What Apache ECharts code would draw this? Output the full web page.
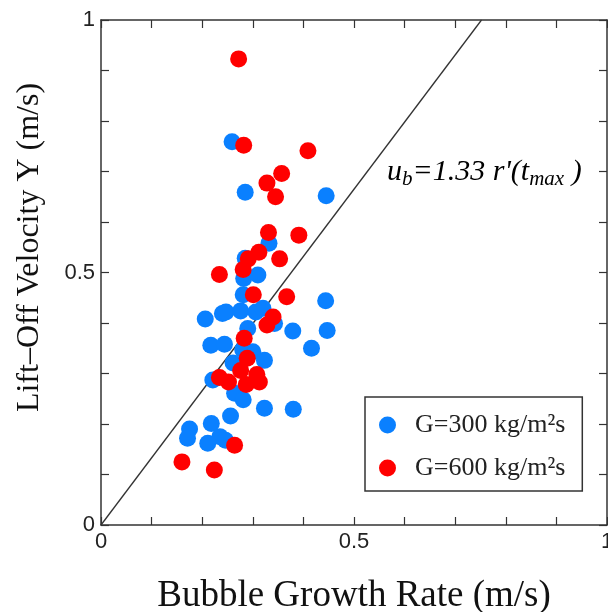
<!DOCTYPE html>
<html>
<head>
<meta charset="utf-8">
<script src="https://cdn.jsdelivr.net/npm/echarts@6/dist/echarts.min.js"></script>
<style>
  html, body { margin: 0; padding: 0; background: #fff; }
  #chart { width: 608px; height: 612px; }
</style>
</head>
<body>
<div id="chart"></div>
<script>
// G=300 kg/m2s  [growth rate, lift-off velocity]
const blue300 = [
  [0.259, 0.759], [0.285, 0.659], [0.445, 0.652], [0.332, 0.558], [0.285, 0.528],
  [0.282, 0.488], [0.310, 0.495], [0.281, 0.456], [0.444, 0.444], [0.206, 0.408],
  [0.240, 0.419], [0.247, 0.422], [0.276, 0.424], [0.306, 0.422], [0.320, 0.429],
  [0.343, 0.399], [0.290, 0.389], [0.379, 0.384], [0.447, 0.385], [0.416, 0.350],
  [0.217, 0.356], [0.244, 0.358], [0.280, 0.347], [0.300, 0.343], [0.261, 0.321],
  [0.323, 0.326], [0.221, 0.287], [0.264, 0.261], [0.281, 0.248], [0.323, 0.231],
  [0.380, 0.229], [0.256, 0.216], [0.218, 0.201], [0.175, 0.190], [0.171, 0.172],
  [0.235, 0.175], [0.246, 0.168], [0.211, 0.162]
];
// G=600 kg/m2s
const red600 = [
  [0.272, 0.923], [0.282, 0.752], [0.409, 0.741], [0.357, 0.696], [0.328, 0.677],
  [0.345, 0.650], [0.331, 0.579], [0.391, 0.574], [0.312, 0.540], [0.353, 0.527],
  [0.291, 0.527], [0.281, 0.506], [0.234, 0.496], [0.301, 0.456], [0.367, 0.452],
  [0.340, 0.412], [0.328, 0.396], [0.283, 0.370], [0.289, 0.330], [0.276, 0.306],
  [0.308, 0.298], [0.234, 0.292], [0.252, 0.283], [0.287, 0.278], [0.313, 0.283],
  [0.264, 0.158], [0.160, 0.125], [0.224, 0.109]
];
// u_b = 1.33 r'(t_max)
const fitX = [0, 0.752];
const fitY = [0, 1];
const tickLabels = ['0', '0.5', '1'];

const serif = '"Liberation Serif", "Times New Roman", serif';
const sans = '"Liberation Sans", Arial, sans-serif';
const axisColor = '#333';

function tickFmt(v) {
  const s = String(Math.round(v * 10) / 10);
  return tickLabels.indexOf(s) >= 0 ? s : '';
}

const chart = echarts.init(document.getElementById('chart'), null, { renderer: 'canvas' });

const baseAxis = {
  min: 0, max: 1, interval: 0.1,
  splitLine: { show: false },
  axisLine: { show: true, onZero: false, lineStyle: { color: axisColor, width: 1.5 } },
  axisTick: { show: true, inside: true, length: 8, lineStyle: { color: axisColor, width: 1.2 } }
};

const option = {
  backgroundColor: '#ffffff',
  animation: false,
  grid: { left: 101, right: 1, top: 20, bottom: 87, outerBoundsMode: 'none', containLabel: false },
  xAxis: [
    Object.assign({}, baseAxis, {
      type: 'value', position: 'bottom',
      name: 'Bubble Growth Rate (m/s)', nameLocation: 'middle', nameGap: 53,
      nameTextStyle: { fontFamily: serif, fontSize: 37, color: '#111' },
      axisLabel: { formatter: tickFmt, fontFamily: sans, fontSize: 22, color: '#222', margin: 6, showMaxLabel: true }
    }),
    Object.assign({}, baseAxis, { type: 'value', position: 'top', axisLabel: { show: false } })
  ],
  yAxis: [
    Object.assign({}, baseAxis, {
      type: 'value', position: 'left',
      name: 'Lift\u2013Off Velocity Y (m/s)', nameLocation: 'middle', nameGap: 55,
      nameTextStyle: { fontFamily: serif, fontSize: 32, color: '#111', padding: [0, 0, 0, 50] },
      axisLabel: { formatter: tickFmt, fontFamily: sans, fontSize: 22, color: '#222', margin: 6 }
    }),
    Object.assign({}, baseAxis, { type: 'value', position: 'right', axisLabel: { show: false } })
  ],
  legend: {
    orient: 'vertical', left: 365, top: 397,
    data: ['G=300 kg/m\u00b2s', 'G=600 kg/m\u00b2s'],
    icon: 'circle', itemWidth: 17, itemHeight: 17, itemGap: 17,
    padding: [15, 17, 10, 14],
    borderColor: '#333', borderWidth: 1.5,
    textStyle: { fontFamily: serif, fontSize: 26, color: '#222', lineHeight: 26, padding: [0, 0, 0, 14] }
  },
  graphic: [{
    type: 'text', left: 387, top: 157,
    style: {
      rich: {
        a: { fontFamily: serif, fontStyle: 'italic', fontSize: 30, color: '#2b2b38' },
        s: { fontFamily: serif, fontStyle: 'italic', fontSize: 21, color: '#2b2b38', padding: [15, 0, 0, 0] }
      },
      text: '{a|u}{s|b}{a|=1.33 r\'(t}{s|max}{a| )}'
    }
  }],
  series: [
    {
      name: 'fit', type: 'line', silent: true, symbol: 'none',
      data: fitX.map((x, i) => [x, fitY[i]]),
      lineStyle: { color: '#333', width: 1.3 }, z: 1
    },
    {
      name: 'G=300 kg/m\u00b2s', type: 'scatter', symbolSize: 17,
      data: blue300, itemStyle: { color: '#0a80ff', opacity: 1 }, z: 2
    },
    {
      name: 'G=600 kg/m\u00b2s', type: 'scatter', symbolSize: 17,
      data: red600, itemStyle: { color: '#ff0000', opacity: 1 }, z: 3
    }
  ]
};

chart.setOption(option);
</script>
</body>
</html>
